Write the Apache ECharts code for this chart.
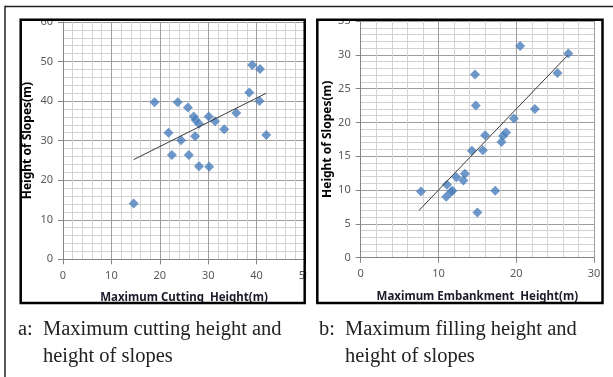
<!DOCTYPE html>
<html><head><meta charset="utf-8">
<script src="https://cdn.jsdelivr.net/npm/echarts@6/dist/echarts.min.js"></script>
<style>html,body{margin:0;padding:0;background:#fff;}#c{width:613px;height:377px;}</style>
</head><body><div id="c"></div>
<script>
// Panel a: maximum cutting height vs height of slopes
var cutX = [18.9, 21.8, 23.7, 24.4, 25.8, 27.0, 27.4, 28.1, 27.3, 30.1, 31.4, 33.3, 35.8, 38.5, 39.1, 40.7, 40.6, 42.0, 22.5, 26.0, 28.1, 30.2, 14.6];
var cutY = [39.7, 32.0, 39.7, 30.1, 38.4, 36.1, 35.2, 34.3, 31.1, 36.1, 34.9, 32.9, 37.0, 42.2, 49.1, 48.1, 40.0, 31.4, 26.4, 26.4, 23.5, 23.4, 14.1];
var trendAX = [14.6, 42.0];
var trendAY = [25.2, 42.0];
// Panel b: maximum embankment height vs height of slopes
var fillX = [20.5, 26.7, 25.3, 14.7, 14.8, 22.4, 19.7, 18.7, 18.3, 16.0, 18.1, 14.3, 15.7, 13.4, 13.2, 12.3, 11.1, 11.8, 11.6, 11.0, 7.75, 17.3, 15.0];
var fillY = [31.3, 30.2, 27.3, 27.1, 22.5, 22.0, 20.6, 18.5, 18.0, 18.1, 17.1, 15.8, 15.9, 12.4, 11.4, 11.9, 10.8, 9.9, 9.7, 9.0, 9.8, 9.9, 6.7];
var trendBX = [7.5, 26.6];
var trendBY = [7.0, 29.9];
// axis texts
var titleAX = 'Maximum Cutting  Height(m)';
var titleBX = 'Maximum Embankment  Height(m)';
var titleY = 'Height of Slopes(m)';
var captionA = ['a:', 'Maximum cutting height and', 'height of slopes'];
var captionB = ['b:', 'Maximum filling height and', 'height of slopes'];

function pairs(xs, ys) { return xs.map(function (x, i) { return [x, ys[i]]; }); }

var chart = echarts.init(document.getElementById('c'), null, {renderer: 'canvas'});
var labelStyle = {color: '#595959', fontSize: 11, fontFamily: 'Noto Sans'};
function axisCommon(min, max, interval, minorN, name, gap, isY) {
  return {
    type: 'value', min: min, max: max, interval: interval,
    name: name, nameLocation: 'middle', nameGap: gap, nameRotate: isY ? 90 : 0,
    nameTextStyle: {color: isY ? '#000' : '#1b1b2b', fontSize: isY ? 12 : 11.5, fontWeight: 'bold', fontFamily: 'Noto Sans'},
    axisLine: {show: true, lineStyle: {color: '#868686', width: 1}},
    axisTick: {show: true, inside: false, length: 5, lineStyle: {color: '#868686'}},
    axisLabel: Object.assign({margin: isY ? 10 : 11}, labelStyle),
    splitLine: {show: true, lineStyle: {color: '#9c9c9c', width: 1}},
    minorTick: {show: false, splitNumber: minorN},
    minorSplitLine: {show: true, lineStyle: {color: '#d2d2d2', width: 1}}
  };
}
var diamond = {color: '#4A7EBB'};
var option = {
  animation: false,
  backgroundColor: '#fff',
  grid: [
    {left: 63, top: 22, width: 242, height: 237.3},
    {left: 360.7, top: 21, width: 233.3, height: 236.7}
  ],
  xAxis: [
    Object.assign(axisCommon(0, 50, 10, 5, titleAX, 32, false), {gridIndex: 0}),
    Object.assign(axisCommon(0, 30, 10, 5, titleBX, 33, false), {gridIndex: 1})
  ],
  yAxis: [
    Object.assign(axisCommon(0, 60, 10, 5, titleY, 29, true), {gridIndex: 0}),
    Object.assign(axisCommon(0, 35, 5, 5, titleY, 27, true), {gridIndex: 1})
  ],
  series: [
    {type: 'scatter', xAxisIndex: 0, yAxisIndex: 0, symbol: 'diamond', symbolSize: 10, itemStyle: diamond, data: pairs(cutX, cutY), z: 3},
    {type: 'line', xAxisIndex: 0, yAxisIndex: 0, symbol: 'none', lineStyle: {color: '#3a3a3a', width: 1}, data: pairs(trendAX, trendAY), z: 4},
    {type: 'scatter', xAxisIndex: 1, yAxisIndex: 1, symbol: 'diamond', symbolSize: 10, itemStyle: diamond, data: pairs(fillX, fillY), z: 3},
    {type: 'line', xAxisIndex: 1, yAxisIndex: 1, symbol: 'none', lineStyle: {color: '#3a3a3a', width: 1}, data: pairs(trendBX, trendBY), z: 4}
  ],
  graphic: [
    // masks clipping labels outside the chart boxes
    {type: 'rect', z: 100, shape: {x: 6, y: 8, width: 607, height: 10.4}, style: {fill: '#fff'}},
    {type: 'rect', z: 100, shape: {x: 306.2, y: 8, width: 9.7, height: 297}, style: {fill: '#fff'}},
    {type: 'rect', z: 100, shape: {x: 604, y: 8, width: 9, height: 297}, style: {fill: '#fff'}},
    // chart boxes
    {type: 'rect', z: 101, shape: {x: 20.7, y: 19.7, width: 284, height: 283.4}, style: {fill: 'none', stroke: '#000', lineWidth: 2.5}},
    {type: 'rect', z: 101, shape: {x: 317.3, y: 19.7, width: 285.2, height: 283.4}, style: {fill: 'none', stroke: '#000', lineWidth: 2.5}},
    // outer frame lines
    {type: 'line', z: 101, shape: {x1: 5, y1: 6.5, x2: 613, y2: 6.5}, style: {stroke: '#222', lineWidth: 1.5}},
    {type: 'line', z: 101, shape: {x1: 5, y1: 5.8, x2: 5, y2: 377}, style: {stroke: '#222', lineWidth: 1.5}},
    // captions
    {type: 'text', z: 102, x: 18, y: 330, style: {text: captionA[0], fill: '#222', font: '20.5px "Liberation Serif"', verticalAlign: 'middle'}},
    {type: 'text', z: 102, x: 43, y: 330, style: {text: captionA[1], fill: '#222', font: '20.5px "Liberation Serif"', verticalAlign: 'middle'}},
    {type: 'text', z: 102, x: 43, y: 357, style: {text: captionA[2], fill: '#222', font: '20.5px "Liberation Serif"', verticalAlign: 'middle'}},
    {type: 'text', z: 102, x: 319, y: 330, style: {text: captionB[0], fill: '#222', font: '20.5px "Liberation Serif"', verticalAlign: 'middle'}},
    {type: 'text', z: 102, x: 345, y: 330, style: {text: captionB[1], fill: '#222', font: '20.5px "Liberation Serif"', verticalAlign: 'middle'}},
    {type: 'text', z: 102, x: 345, y: 357, style: {text: captionB[2], fill: '#222', font: '20.5px "Liberation Serif"', verticalAlign: 'middle'}}
  ]
};
chart.setOption(option);
</script>
</body></html>
